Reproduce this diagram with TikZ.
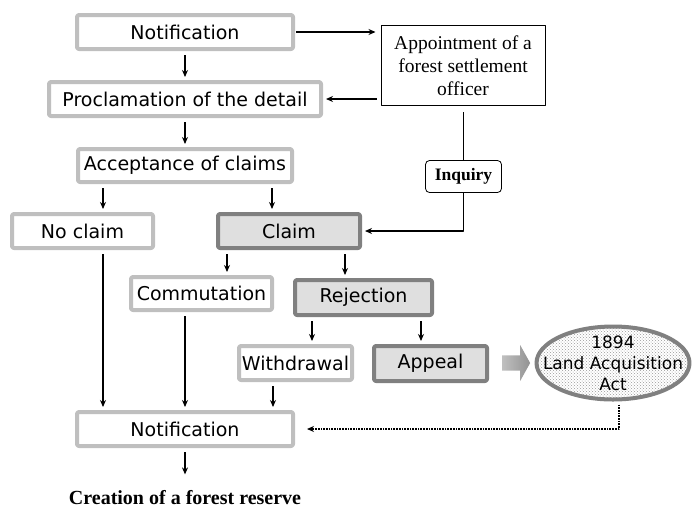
\documentclass[tikz,border=0pt]{standalone}
\usepackage{fontspec}
\setmainfont{Liberation Serif}
\setsansfont{DejaVu Sans}
\usetikzlibrary{arrows.meta,shapes.geometric,shapes.arrows,patterns}

\begin{document}
\begin{tikzpicture}[x=1pt, y=-1pt, line join=round, >={Stealth[length=7pt,width=6pt]},
	font=\sffamily\fontsize{19}{22}\selectfont,
	lightbox/.style={draw=gray!50, line width=4pt, rounded corners=2pt, fill=white, inner sep=0pt},
	darkbox/.style={draw=gray, line width=4pt, rounded corners=2pt, fill=gray!25, inner sep=0pt},
	flow/.style={->, line width=1.7pt, shorten >=3pt, shorten <=4pt}]
		\useasboundingbox (0,0) rectangle (693,507);
		\node[lightbox, minimum width=216, minimum height=34] (notif) at (185,32) {Notification};
		\node[lightbox, minimum width=272, minimum height=34] (procl) at (185,99) {Proclamation of the detail};
		\node[lightbox, minimum width=214, minimum height=33] (accept) at (185,165.5) {Acceptance of claims};
		\node[lightbox, minimum width=141, minimum height=34] (noclaim) at (82.5,231) {No claim};
		\node[darkbox, minimum width=142, minimum height=34] (claim) at (289,231) {Claim};
		\node[lightbox, minimum width=141, minimum height=33] (commut) at (201.5,293.5) {Commutation};
		\node[darkbox, minimum width=137, minimum height=35] (reject) at (363.5,297.5) {Rejection};
		\node[lightbox, minimum width=113, minimum height=34] (withdr) at (295.5,363) {Withdrawal};
		\node[darkbox, minimum width=113, minimum height=35] (appeal) at (430.5,363.5) {Appeal};
		\node[lightbox, minimum width=216, minimum height=34] (notiftwo) at (185,429) {Notification};
		\node[draw, line width=1pt, minimum width=164, minimum height=80, inner sep=0pt, align=center,
			font=\rmfamily\fontsize{19.5}{23}\selectfont] (appoint) at (463,65.5) {Appointment of a\\forest settlement\\officer};
		\node[draw, line width=0.8pt, rounded corners=4pt, minimum width=76, minimum height=32, inner sep=0pt,
			font=\rmfamily\bfseries\fontsize{17.5}{20}\selectfont] (inquiry) at (463.5,176.5) {Inquiry};
		\node[ellipse, draw=gray, line width=4pt, preaction={fill=white}, pattern=crosshatch dots, pattern color=gray!80,
			minimum width=153, minimum height=73, inner sep=0pt] (act) at (613,363) {};
		\node[align=center, inner sep=0pt, font=\sffamily\fontsize{17}{21}\selectfont] (acttext) at (act.center) {1894\\Land Acquisition\\Act};
		\node[single arrow, draw=none, left color=gray!50, right color=gray!85, inner sep=7.5pt, minimum height=28,
			single arrow head extend=10.5pt, single arrow tip angle=122] (toact) at (514,363) {};
		\node[anchor=base, font=\rmfamily\bfseries\fontsize{20}{24}\selectfont] (creation) at (185,504) {Creation of a forest reserve};
		\draw[flow] (notif.south) -- (procl.north);
		\draw[flow] (procl.south) -- (accept.north);
		\draw[flow, shorten >=5pt, shorten <=1pt] (notif.east) -- (notif.east -| appoint.west);
		\draw[flow, shorten <=4pt] (appoint.west |- procl.east) -- (procl.east);
		\draw[line width=1pt, shorten <=6pt] (inquiry.north |- appoint.south) -- (inquiry.north);
		\draw[flow, shorten <=0pt] (inquiry.south) |- (claim.east);
		\draw[flow] (accept.south -| 103,0) -- (noclaim.north -| 103,0);
		\draw[flow] (accept.south -| 272,0) -- (claim.north -| 272,0);
		\draw[flow] (claim.south -| 227,0) -- (commut.north -| 227,0);
		\draw[flow] (claim.south -| 345,0) -- (reject.north -| 345,0);
		\draw[flow] (reject.south -| 312,0) -- (withdr.north -| 312,0);
		\draw[flow] (reject.south -| 421,0) -- (appeal.north -| 421,0);
		\draw[flow] (noclaim.south -| 103,0) -- (notiftwo.north -| 103,0);
		\draw[flow] (commut.south -| 185,0) -- (notiftwo.north -| 185,0);
		\draw[flow] (withdr.south -| 273,0) -- (notiftwo.north -| 273,0);
		\draw[flow, shorten >=12pt] (notiftwo.south) -- (creation.north);
		\draw[flow, densely dotted, shorten <=3pt, shorten >=12pt] (act.south -| 619,0) |- (notiftwo.east);
\end{tikzpicture}
\end{document}
